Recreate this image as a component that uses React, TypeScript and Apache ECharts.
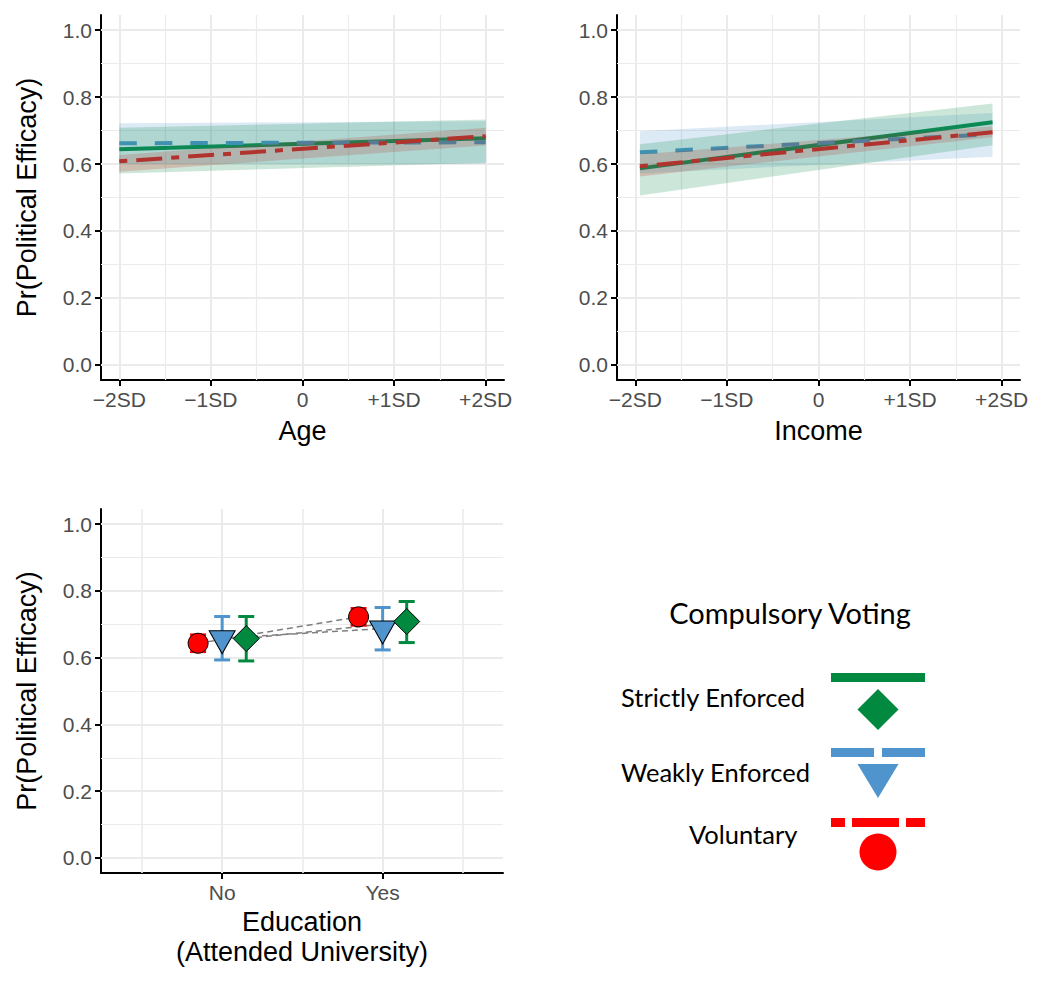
import React, { useEffect, useRef } from "react";
import * as echarts from "echarts";

// ---------- data ----------
const yTicks = [0, 0.2, 0.4, 0.6, 0.8, 1.0];
const yMinor = [0.1, 0.3, 0.5, 0.7, 0.9];
const sdTicks = [-2, -1, 0, 1, 2];
const sdTickLabels = ["\u22122SD", "\u22121SD", "0", "+1SD", "+2SD"];
const sdMinor = [-1.5, -0.5, 0.5, 1.5];

const groups = ["Strictly Enforced", "Weakly Enforced", "Voluntary"];
const colors = ["#00893f", "#4f94cd", "#ff0000"];

// Age panel
const ageX = [-2, 2];
const ageStrictMid = [0.644, 0.677];
const ageStrictLo = [0.572, 0.604];
const ageStrictHi = [0.708, 0.733];
const ageWeakMid = [0.662, 0.665];
const ageWeakLo = [0.6, 0.6];
const ageWeakHi = [0.722, 0.728];
const ageVolMid = [0.608, 0.683];
const ageVolLo = [0.577, 0.655];
const ageVolHi = [0.627, 0.708];

// Income panel
const incX = [-1.95, 1.9];
const incStrictMid = [0.587, 0.725];
const incStrictLo = [0.506, 0.656];
const incStrictHi = [0.659, 0.781];
const incWeakMid = [0.635, 0.689];
const incWeakLo = [0.572, 0.622];
const incWeakHi = [0.698, 0.752];
const incVolMid = [0.593, 0.695];
const incVolLo = [0.563, 0.68];
const incVolHi = [0.629, 0.713];

// Education panel
const eduCats = ["No", "Yes"];
const eduTicks = [1, 2];
const eduMinor = [0.5, 1.5, 2.5];
const eduStrictMean = [0.657, 0.708];
const eduStrictLo = [0.59, 0.645];
const eduStrictHi = [0.723, 0.768];
const eduWeakMean = [0.658, 0.687];
const eduWeakLo = [0.593, 0.623];
const eduWeakHi = [0.723, 0.75];
const eduVolMean = [0.643, 0.722];
const eduVolLo = [0.618, 0.697];
const eduVolHi = [0.668, 0.747];

// ---------- styles ----------
const FONT = "Liberation Sans, Arial, sans-serif";
const LFONT = "Lato, sans-serif";
const GRID_C = "#ebebeb";
const dashStyles: any[] = ["solid", [17.5, 18], [8, 9, 26, 9]];
const dodge = [0.15, 0, -0.15];

function rgba(hex: string, a: number) {
  const n = parseInt(hex.slice(1), 16);
  return `rgba(${(n >> 16) & 255},${(n >> 8) & 255},${n & 255},${a})`;
}

function gridLines(idx: number, xMaj: number[], xMin: number[], yMaj: number[], yMin: number[], xMinW = 1.2) {
  const d: any[] = [];
  xMin.forEach((v) => d.push({ xAxis: v, lineStyle: { color: GRID_C, width: xMinW, type: "solid" } }));
  yMin.forEach((v) => d.push({ yAxis: v, lineStyle: { color: GRID_C, width: 1.2, type: "solid" } }));
  xMaj.forEach((v) => d.push({ xAxis: v, lineStyle: { color: GRID_C, width: 2, type: "solid" } }));
  yMaj.forEach((v) => d.push({ yAxis: v, lineStyle: { color: GRID_C, width: 2, type: "solid" } }));
  return {
    type: "line",
    xAxisIndex: idx,
    yAxisIndex: idx,
    data: [],
    z: 1,
    silent: true,
    markLine: { z: 1, silent: true, symbol: ["none", "none"], label: { show: false }, animation: false, data: d },
  };
}

function ribbon(idx: number, xs: number[], lo: number[], hi: number[], color: string) {
  return {
    type: "custom",
    xAxisIndex: idx,
    yAxisIndex: idx,
    z: 4,
    silent: true,
    data: xs.map((x, i) => [x, lo[i], hi[i]]),
    renderItem: (params: any, api: any) => {
      const i = params.dataIndex;
      if (i >= xs.length - 1) return null;
      const pts = [
        api.coord([xs[i], hi[i]]),
        api.coord([xs[i + 1], hi[i + 1]]),
        api.coord([xs[i + 1], lo[i + 1]]),
        api.coord([xs[i], lo[i]]),
      ];
      return { type: "polygon", shape: { points: pts }, style: { fill: rgba(color, 0.2) } };
    },
  };
}

function line(idx: number, xs: number[], mid: number[], gi: number) {
  return {
    type: "line",
    xAxisIndex: idx,
    yAxisIndex: idx,
    z: 3,
    silent: true,
    showSymbol: false,
    data: xs.map((x, i) => [x, mid[i]]),
    lineStyle: { color: colors[gi], width: 4, type: dashStyles[gi], cap: "butt" },
  };
}

function errorBars(gi: number, lo: number[], hi: number[]) {
  return {
    type: "custom",
    xAxisIndex: 2,
    yAxisIndex: 2,
    z: 4,
    silent: true,
    data: eduTicks.map((x, i) => [x + dodge[gi], lo[i], hi[i]]),
    renderItem: (params: any, api: any) => {
      const x = api.value(0);
      const a = api.coord([x, api.value(1)]);
      const b = api.coord([x, api.value(2)]);
      const st = { stroke: colors[gi], lineWidth: 3 };
      return {
        type: "group",
        children: [
          { type: "line", shape: { x1: a[0], y1: a[1], x2: b[0], y2: b[1] }, style: st },
          { type: "line", shape: { x1: a[0] - 8, y1: a[1], x2: a[0] + 8, y2: a[1] }, style: st },
          { type: "line", shape: { x1: b[0] - 8, y1: b[1], x2: b[0] + 8, y2: b[1] }, style: st },
        ],
      };
    },
  };
}

function connector(gi: number, mean: number[]) {
  return {
    type: "line",
    xAxisIndex: 2,
    yAxisIndex: 2,
    z: 3,
    silent: true,
    showSymbol: false,
    data: eduTicks.map((x, i) => [x + dodge[gi], mean[i]]),
    lineStyle: { color: "#7f7f7f", width: 1.5, type: [6, 4] },
  };
}

const symbols: any[] = [
  { symbol: "diamond", symbolSize: [26, 26], symbolRotate: 0, symbolOffset: [0, 0] },
  { symbol: "triangle", symbolSize: [26, 23], symbolRotate: 180, symbolOffset: [0, 4] },
  { symbol: "circle", symbolSize: 20, symbolRotate: 0, symbolOffset: [0, 0] },
];

function points(gi: number, mean: number[]) {
  return {
    type: "scatter",
    xAxisIndex: 2,
    yAxisIndex: 2,
    z: 5,
    silent: true,
    data: eduTicks.map((x, i) => [x + dodge[gi], mean[i]]),
    ...symbols[gi],
    itemStyle: { color: colors[gi], borderColor: "#000", borderWidth: 1, opacity: 1 },
  };
}

function xAxisDef(idx: number, min: number, max: number, ticks: number[], labels: string[], name: string, nameGap: number) {
  return {
    type: "value",
    gridIndex: idx,
    min,
    max,
    name,
    nameLocation: "middle",
    nameGap,
    nameTextStyle: { fontSize: 27, color: "#000", fontFamily: FONT, lineHeight: 30 },
    axisLine: { show: true, onZero: false, lineStyle: { color: "#000", width: 2 } },
    axisTick: { show: true, customValues: ticks, length: 6, lineStyle: { color: "#000", width: 2 } },
    axisLabel: {
      show: true,
      customValues: ticks,
      margin: 9,
      color: "#4d4d4d",
      fontSize: 21,
      fontFamily: FONT,
      formatter: (v: number) => {
        const k = ticks.indexOf(Math.round(v * 1000) / 1000);
        return k >= 0 ? labels[k] : "";
      },
    },
    splitLine: { show: false },
  };
}

function yAxisDef(idx: number, name: string) {
  return {
    type: "value",
    gridIndex: idx,
    min: -0.045,
    max: 1.045,
    name,
    nameLocation: "middle",
    nameGap: 61,
    nameTextStyle: { fontSize: 27, color: "#000", fontFamily: FONT },
    axisLine: { show: true, onZero: false, lineStyle: { color: "#000", width: 2 } },
    axisTick: { show: true, customValues: yTicks, length: 6, lineStyle: { color: "#000", width: 2 } },
    axisLabel: {
      show: true,
      customValues: yTicks,
      margin: 9,
      color: "#4d4d4d",
      fontSize: 21,
      fontFamily: FONT,
      formatter: (v: number) => v.toFixed(1),
    },
    splitLine: { show: false },
  };
}

function legendGraphics() {
  const els: any[] = [];
  els.push({ type: "text", x: 790, y: 612, style: { text: "Compulsory Voting", font: `29px ${LFONT}`, fill: "#000", textAlign: "center", textVerticalAlign: "middle" } });
  const labelPos = [
    { x: 621, y: 697 },
    { x: 621, y: 772 },
    { x: 689, y: 834 },
  ];
  groups.forEach((g, i) => {
    els.push({ type: "text", x: labelPos[i].x, y: labelPos[i].y, style: { text: g, font: `25.5px ${LFONT}`, fill: "#000", textAlign: "left", textVerticalAlign: "middle" } });
  });
  // strictly enforced
  els.push({ type: "rect", shape: { x: 831, y: 673, width: 94, height: 9 }, style: { fill: colors[0] } });
  els.push({ type: "polygon", shape: { points: [[878, 689], [898.5, 709.5], [878, 730], [857.5, 709.5]] }, style: { fill: colors[0] } });
  // weakly enforced
  els.push({ type: "rect", shape: { x: 831, y: 748, width: 43, height: 9 }, style: { fill: colors[1] } });
  els.push({ type: "rect", shape: { x: 882, y: 748, width: 43, height: 9 }, style: { fill: colors[1] } });
  els.push({ type: "polygon", shape: { points: [[857.5, 764], [898.5, 764], [878, 798]] }, style: { fill: colors[1] } });
  // voluntary
  els.push({ type: "rect", shape: { x: 831, y: 818, width: 14, height: 9 }, style: { fill: colors[2] } });
  els.push({ type: "rect", shape: { x: 852, y: 818, width: 47, height: 9 }, style: { fill: colors[2] } });
  els.push({ type: "rect", shape: { x: 906, y: 818, width: 19, height: 9 }, style: { fill: colors[2] } });
  els.push({ type: "circle", shape: { cx: 878, cy: 852, r: 18.5 }, style: { fill: colors[2] } });
  return els;
}

export default function App() {
  const ref = useRef<HTMLDivElement>(null);
  useEffect(() => {
    document.body.style.margin = "0";
    const chart = echarts.init(ref.current!, null, { renderer: "svg" });
    const option: any = {
      animation: false,
      backgroundColor: "#fff",
      grid: [
        { left: 101, top: 15, width: 403, height: 365, containLabel: false, outerBoundsMode: "none" },
        { left: 617, top: 15, width: 403, height: 365, containLabel: false, outerBoundsMode: "none" },
        { left: 101, top: 509, width: 402, height: 364, containLabel: false, outerBoundsMode: "none" },
      ],
      xAxis: [
        xAxisDef(0, -2.2, 2.2, sdTicks, sdTickLabels, "Age", 36),
        xAxisDef(1, -2.2, 2.2, sdTicks, sdTickLabels, "Income", 36),
        xAxisDef(2, 0.245, 2.75, eduTicks, eduCats, "Education\n(Attended University)", 34),
      ],
      yAxis: [yAxisDef(0, "Pr(Political Efficacy)"), yAxisDef(1, ""), yAxisDef(2, "Pr(Political Efficacy)")],
      series: [
        gridLines(0, sdTicks, sdMinor, yTicks, yMinor),
        gridLines(1, sdTicks, sdMinor, yTicks, yMinor),
        gridLines(2, eduTicks, eduMinor, yTicks, yMinor, 1.6),
        // Age
        line(0, ageX, ageStrictMid, 0),
        line(0, ageX, ageWeakMid, 1),
        line(0, ageX, ageVolMid, 2),
        ribbon(0, ageX, ageVolLo, ageVolHi, colors[2]),
        ribbon(0, ageX, ageWeakLo, ageWeakHi, colors[1]),
        ribbon(0, ageX, ageStrictLo, ageStrictHi, colors[0]),
        // Income
        line(1, incX, incStrictMid, 0),
        line(1, incX, incWeakMid, 1),
        line(1, incX, incVolMid, 2),
        ribbon(1, incX, incVolLo, incVolHi, colors[2]),
        ribbon(1, incX, incWeakLo, incWeakHi, colors[1]),
        ribbon(1, incX, incStrictLo, incStrictHi, colors[0]),
        // Education
        connector(2, eduVolMean),
        connector(1, eduWeakMean),
        connector(0, eduStrictMean),
        errorBars(2, eduVolLo, eduVolHi),
        errorBars(1, eduWeakLo, eduWeakHi),
        errorBars(0, eduStrictLo, eduStrictHi),
        points(2, eduVolMean),
        points(1, eduWeakMean),
        points(0, eduStrictMean),
      ],
      graphic: legendGraphics(),
    };
    chart.setOption(option);
    return () => chart.dispose();
  }, []);
  return <div ref={ref} style={{ width: 1041, height: 990 }} />;
}
